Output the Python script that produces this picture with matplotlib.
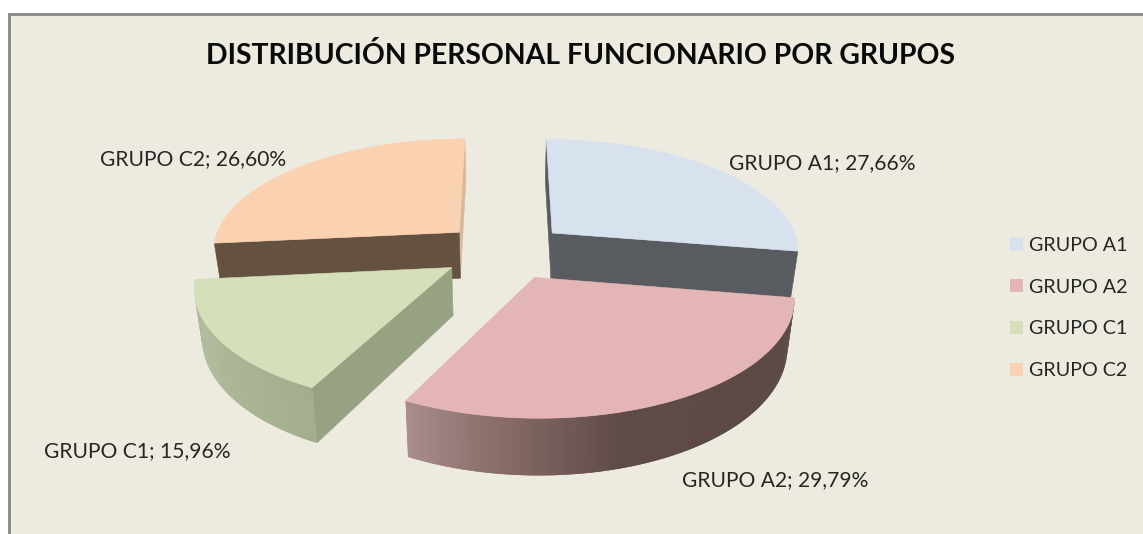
import numpy as np
import matplotlib
matplotlib.use("Agg")
import matplotlib.pyplot as plt
from matplotlib.patches import Polygon, Rectangle, Patch
from matplotlib.colors import to_rgb

# ---- data ----
categories = ["GRUPO A1", "GRUPO A2", "GRUPO C1", "GRUPO C2"]
percentages = [27.66, 29.79, 15.96, 26.60]
title = "DISTRIBUCIÓN PERSONAL FUNCIONARIO POR GRUPOS"

# ---- styles ----
top_colors = ["#D8E2EF", "#E4B5B5", "#D5E0BA", "#FBD2B1"]
start_face = ["#585B60", "#5C4A47", "#97A283", "#65513F"]
end_face = ["#585B60", "#5C4A47", "#97A283", "#D8B79A"]
# rim gradient stops (fraction along the slice's arc, colour)
rim_stops = [
    [(0, "#585B60"), (1, "#585B60")],
    [(0, "#5C4A47"), (0.6, "#5E4A47"), (0.84, "#8B6F6C"), (1, "#A98D8D")],
    [(0, "#A2AE8C"), (0.6, "#B0BA9C"), (1, "#AEB999")],
    [(0, "#65513F"), (1, "#65513F")],
]
label_pos = [(729, 163), (682, 480), (44, 451), (100, 159)]
draw_order = [3, 0, 2, 1]

BG = "#EDEBE0"
CX, CY, RX, RY = 505, 251, 248, 112
PERSP, EXPLODE, DEPTH, SHRINK = 0.145, 0.255, 47, 0.975
FONT = "Lato"

fig = plt.figure(figsize=(11.43, 5.34), dpi=100, facecolor="white")
ax = fig.add_axes([0, 0, 1, 1])
ax.set_xlim(0, 1143)
ax.set_ylim(534, 0)
ax.axis("off")

ax.add_patch(Rectangle((9, 14), 1150, 540, facecolor=BG, edgecolor="#868686", lw=2, zorder=0))


def project(X, Y, low=False):
    X, Y = np.asarray(X, float), np.asarray(Y, float)
    s = 1 / (1 - PERSP * Y)
    x = CX + RX * X * s
    y = CY + RY * Y * s
    if low:
        x = CX + (x - CX) * SHRINK
        y = y + DEPTH * s
    return x, y


def quad(px, py, color, z, lw=0.4):
    ax.add_patch(Polygon(np.column_stack([px, py]), closed=True, facecolor=color,
                         edgecolor=color if lw else "none", lw=lw, zorder=z))


def ramp(stops, f):
    fs = [p for p, _ in stops]
    cs = np.array([to_rgb(c) for _, c in stops])
    return tuple(np.interp(f, fs, cs[:, i]) for i in range(3))


def faces_viewer(nx, ny, px, py):
    return nx * (0 - px) + ny * (1 / PERSP - py) > 0


fractions = np.array(percentages) / sum(percentages)
edges = np.concatenate([[0], np.cumsum(fractions)]) * 2 * np.pi

for rank, i in enumerate(draw_order):
    z = 2 + rank * 5
    a0, a1 = edges[i], edges[i + 1]
    mid = (a0 + a1) / 2
    ox, oy = EXPLODE * np.sin(mid), -EXPLODE * np.cos(mid)
    t = np.linspace(a0, a1, 121)
    rx, ry = ox + np.sin(t), oy - np.cos(t)

    if faces_viewer(np.cos(a1), np.sin(a1), ox, oy):
        tx, ty = project([ox, rx[-1]], [oy, ry[-1]])
        bx, by = project([ox, rx[-1]], [oy, ry[-1]], low=True)
        quad([tx[0], tx[1], bx[1], bx[0]], [ty[0], ty[1], by[1], by[0]], end_face[i], z)
    if faces_viewer(-np.cos(a0), -np.sin(a0), ox, oy):
        tx, ty = project([ox, rx[0]], [oy, ry[0]])
        bx, by = project([ox, rx[0]], [oy, ry[0]], low=True)
        quad([tx[0], tx[1], bx[1], bx[0]], [ty[0], ty[1], by[1], by[0]], start_face[i], z + 1)

    ttx, tty = project(rx, ry)
    btx, bty = project(rx, ry, low=True)
    for k in range(len(t) - 1):
        tm = (t[k] + t[k + 1]) / 2
        if not faces_viewer(np.sin(tm), -np.cos(tm), rx[k], ry[k]):
            continue
        c = ramp(rim_stops[i], k / (len(t) - 2))
        # each strip reaches over the next one so no seams show between them
        e = min(k + 2, len(t) - 1)
        quad([ttx[k], ttx[k + 1], ttx[e], btx[e], btx[k + 1], btx[k]],
             [tty[k], tty[k + 1], tty[e], bty[e], bty[k + 1], bty[k]], c, z + 2, lw=0)

    ax_x, ax_y = project([ox], [oy])
    quad(np.r_[ax_x, ttx], np.r_[ax_y, tty], top_colors[i], z + 3)

for name, value, (x, y) in zip(categories, percentages, label_pos):
    text = f"{name}; {value:.2f}%".replace(".", ",")
    ax.text(x, y, text, ha="left", va="center", fontsize=15.1, family=FONT,
            color="#262626", zorder=50)

ax.text(581, 55, title, ha="center", va="center", fontsize=20.4, family=FONT,
        fontweight="bold", color="#0A0A0A", zorder=50)

handles = [Patch(facecolor=c, edgecolor="none", label=n) for c, n in zip(top_colors, categories)]
ax.legend(handles=handles, loc="center left", bbox_to_anchor=(1010 / 1143, 1 - 308 / 534),
          frameon=False, borderpad=0, borderaxespad=0, labelspacing=1.26,
          handlelength=0.68, handleheight=0.68, handletextpad=0.3,
          prop={"family": FONT, "size": 14.2}, labelcolor="#262626")

fig.savefig("out.png", dpi=100, facecolor="white")
